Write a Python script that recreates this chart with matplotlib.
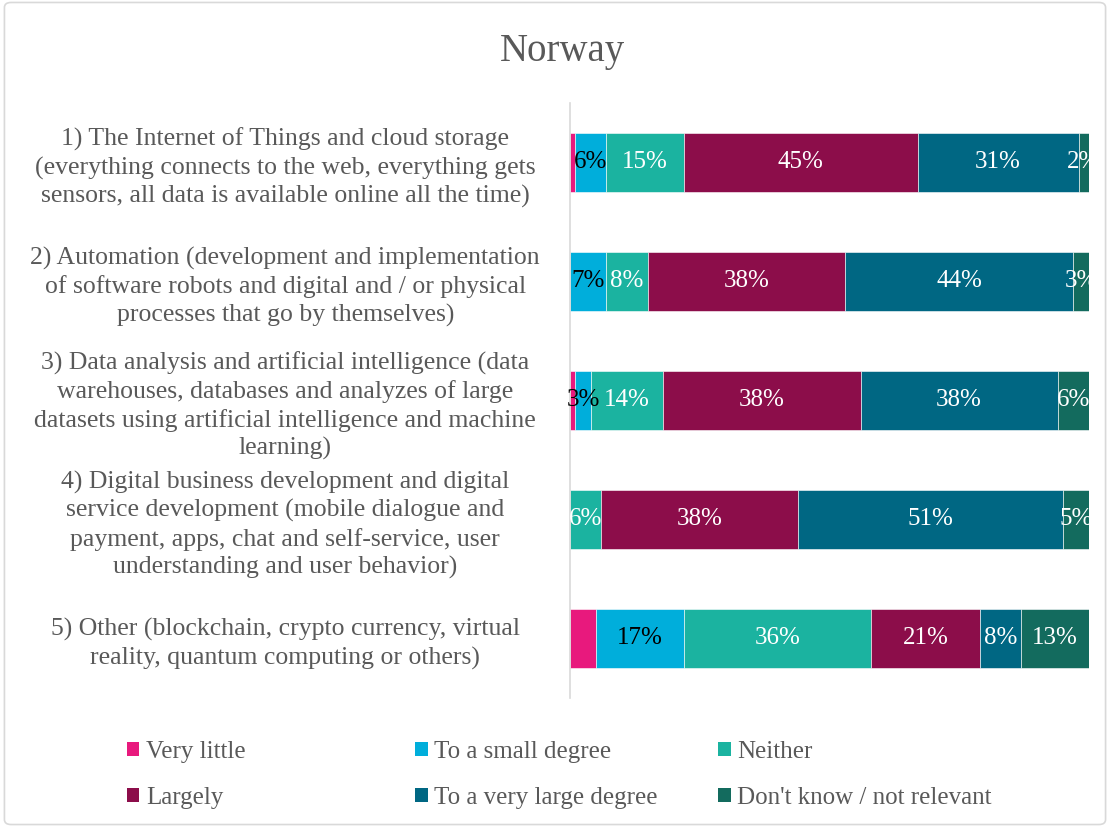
import matplotlib.pyplot as plt
from matplotlib.patches import FancyBboxPatch, Patch

plt.rcParams['font.family'] = ['Liberation Serif', 'DejaVu Serif']

categories = [
    "1) The Internet of Things and cloud storage\n(everything connects to the web, everything gets\nsensors, all data is available online all the time)",
    "2) Automation (development and implementation\nof software robots and digital and / or physical\nprocesses that go by themselves)",
    "3) Data analysis and artificial intelligence (data\nwarehouses, databases and analyzes of large\ndatasets using artificial intelligence and machine\nlearning)",
    "4) Digital business development and digital\nservice development (mobile dialogue and\npayment, apps, chat and self-service, user\nunderstanding and user behavior)",
    "5) Other (blockchain, crypto currency, virtual\nreality, quantum computing or others)",
]
series = ["Very little", "To a small degree", "Neither",
          "Largely", "To a very large degree", "Don't know / not relevant"]

very_little = [1, 0, 1, 0, 5]
small_degree = [6, 7, 3, 0, 17]
neither = [15, 8, 14, 6, 36]
largely = [45, 38, 38, 38, 21]
very_large = [31, 44, 38, 51, 8]
dont_know = [2, 3, 6, 5, 13]

values = [very_little, small_degree, neither, largely, very_large, dont_know]
colors = ["#E8197D", "#00AEDB", "#1BB3A0", "#8C0D4A", "#006783", "#136B5E"]
label_colors = [None, "black", "white", "white", "white", "white"]

fig = plt.figure(figsize=(11.1, 8.27), dpi=100)
ax = fig.add_axes([0.5135, 0.156, 0.4675, 0.7195])

left = [0] * len(categories)
for vals, col, lc, name in zip(values, colors, label_colors, series):
    ax.barh(range(len(categories)), vals, left=left, height=0.5, color=col,
            edgecolor="white", linewidth=0.4, label=name)
    if lc is not None:
        for i, v in enumerate(vals):
            if v > 0:
                ax.text(left[i] + v / 2, i, f"{v}%", ha="center", va="center",
                        color=lc, fontsize=18)
    left = [a + b for a, b in zip(left, vals)]

ax.set_xlim(0, 100)
ax.set_ylim(4.5, -0.5)
ax.set_yticks(range(len(categories)))
ax.set_yticklabels(categories, fontsize=18.5, color="#595959", ha="center",
                   linespacing=1.3)
ax.tick_params(axis="y", length=0, pad=205)
ax.set_xticks([])
for s in ["top", "right", "bottom"]:
    ax.spines[s].set_visible(False)
ax.spines["left"].set_color("#D9D9D9")
ax.spines["left"].set_linewidth(1.2)

fig.text(0.507, 0.938, "Norway", ha="center", va="center", fontsize=28,
         color="#595959")

# legend laid out row by row, one small legend per column
col_x = [0.1144, 0.374, 0.647]
for k, x in enumerate(col_x):
    idx = [k, k + 3]
    fig.legend([Patch(facecolor=colors[i]) for i in idx], [series[i] for i in idx],
               loc="center left", bbox_to_anchor=(x, 0.063), frameon=False,
               fontsize=18, labelcolor="#595959", handlelength=0.5,
               handleheight=0.5, handletextpad=0.25, labelspacing=0.95,
               borderpad=0, borderaxespad=0)

fig.patches.append(FancyBboxPatch((0.004, 0.003), 0.992, 0.994,
                                  boxstyle="round,pad=0,rounding_size=0.006",
                                  transform=fig.transFigure, fill=False,
                                  edgecolor="#D9D9D9", linewidth=1.2))

fig.savefig("out.png", dpi=100)
